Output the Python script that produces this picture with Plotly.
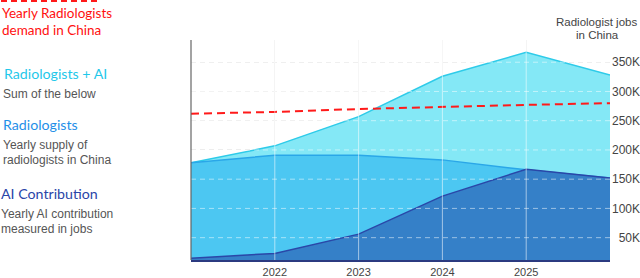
import plotly.graph_objects as go

years = [2021, 2022, 2023, 2024, 2025, 2026]
radiologists_plus_ai = [178000, 207000, 257000, 326000, 367000, 328000]
radiologists = [178000, 191000, 191000, 183000, 166000, 152000]
ai_contribution = [15000, 23000, 56000, 121000, 167000, 152000]
demand = [262000, 265000, 270000, 274000, 277000, 280000]

x_ticks = [2022, 2023, 2024, 2025]
y_ticks = [50000, 100000, 150000, 200000, 250000, 300000, 350000]
y_tick_labels = ["50K", "100K", "150K", "200K", "250K", "300K", "350K"]

W, H = 640, 278
L, R, T, B = 191, 0, 40, 18
plot_w = W - L - R
x_dom_end = (610 - L) / plot_w

fig = go.Figure()
fig.add_trace(go.Scatter(x=years, y=radiologists_plus_ai, mode="lines", fill="tozeroy",
                         line=dict(color="#2ecbe9", width=1.5), fillcolor="#84e8f6",
                         name="Radiologists + AI", hoverinfo="skip"))
fig.add_trace(go.Scatter(x=years, y=radiologists, mode="lines", fill="tozeroy",
                         line=dict(color="#2aa7e8", width=1.5), fillcolor="#4cc7f2",
                         name="Radiologists", hoverinfo="skip"))
fig.add_trace(go.Scatter(x=years, y=ai_contribution, mode="lines", fill="tozeroy",
                         line=dict(color="#2a47a8", width=1.5), fillcolor="#3580c8",
                         name="AI Contribution", hoverinfo="skip"))
fig.add_trace(go.Scatter(x=years, y=demand, mode="lines",
                         line=dict(color="#ff1a1a", width=2, dash="8px,5px"),
                         name="Demand", hoverinfo="skip"))

shapes = []
for v in y_ticks:
    shapes.append(dict(type="line", xref="x", yref="y", x0=2021, x1=2026, y0=v, y1=v,
                       line=dict(color="rgba(255,255,255,0.5)", width=1, dash="5px,4px"),
                       layer="above"))
for v in x_ticks:
    shapes.append(dict(type="line", xref="x", yref="paper", x0=v, x1=v, y0=0, y1=1,
                       line=dict(color="rgba(255,255,255,0.55)", width=1), layer="above"))
shapes.append(dict(type="line", xref="paper", yref="paper", x0=0, x1=0, y0=0, y1=1,
                   line=dict(color="#666666", width=1.2), layer="above"))


def px(xp):
    return (xp - L) / plot_w


def py(yp):
    return (H - B - yp) / (H - T - B)


shapes.append(dict(type="line", xref="paper", yref="paper",
                   x0=px(1), x1=px(100), y0=py(1), y1=py(1),
                   line=dict(color="#ff1a1a", width=2, dash="6px,4px")))

ann = []


def add(text, x, y, color, size, family, anchor="left"):
    ann.append(dict(text=text, x=px(x), y=py(y), xref="paper", yref="paper",
                    xanchor=anchor, yanchor="middle", showarrow=False,
                    font=dict(color=color, size=size, family=family)))


cal = "Lato, Carlito, sans-serif"
ari = "Liberation Sans, Arial, sans-serif"
add("Yearly Radiologists", 0, 13, "#ff1010", 13.5, cal)
add("demand in China", 0, 30, "#ff1010", 13.5, cal)
add("Radiologists + AI", 2, 73, "#1fc8ea", 14.2, cal)
add("Sum of the below", 1, 94, "#555555", 12, ari)
add("Radiologists", 1, 124, "#1f8fe8", 14.2, cal)
add("Yearly supply of", 1, 145, "#555555", 12, ari)
add("radiologists in China", 1, 160, "#555555", 12, ari)
add("AI Contribution", -1, 193, "#2a45a8", 14.2, cal)
add("Yearly AI contribution", -1, 214, "#555555", 12, ari)
add("measured in jobs", -1, 229, "#555555", 12, ari)
add("Radiologist jobs", 596, 22, "#444444", 11.5, ari, "center")
add("in China", 597, 35, "#444444", 11.5, ari, "center")

fig.update_layout(
    width=W, height=H,
    margin=dict(l=L, r=R, t=T, b=B, pad=0, autoexpand=False),
    paper_bgcolor="white", plot_bgcolor="white",
    showlegend=False,
    shapes=shapes, annotations=ann,
    xaxis=dict(range=[2021, 2026], domain=[0, x_dom_end], tickvals=x_ticks,
               ticktext=[str(v) for v in x_ticks], showgrid=True, gridcolor="#eeeeee",
               zeroline=False, showline=True, linecolor="#2b3a80", linewidth=1.5,
               ticks="", ticklabelstandoff=1, automargin=False,
               tickfont=dict(size=11, color="#444444", family=ari)),
    yaxis=dict(range=[11800, 388000], tickvals=y_ticks, ticktext=y_tick_labels,
               anchor="free", position=1.0, side="left", automargin=False,
               showgrid=True, gridcolor="#e6e6e6", griddash="5px,4px",
               zeroline=False, showline=False, ticks="",
               tickfont=dict(size=12, color="#444444", family=ari)),
)

fig.write_html("out.html", config={"displayModeBar": False},
               post_script="document.body.style.margin='0';document.body.style.overflow='hidden';")
